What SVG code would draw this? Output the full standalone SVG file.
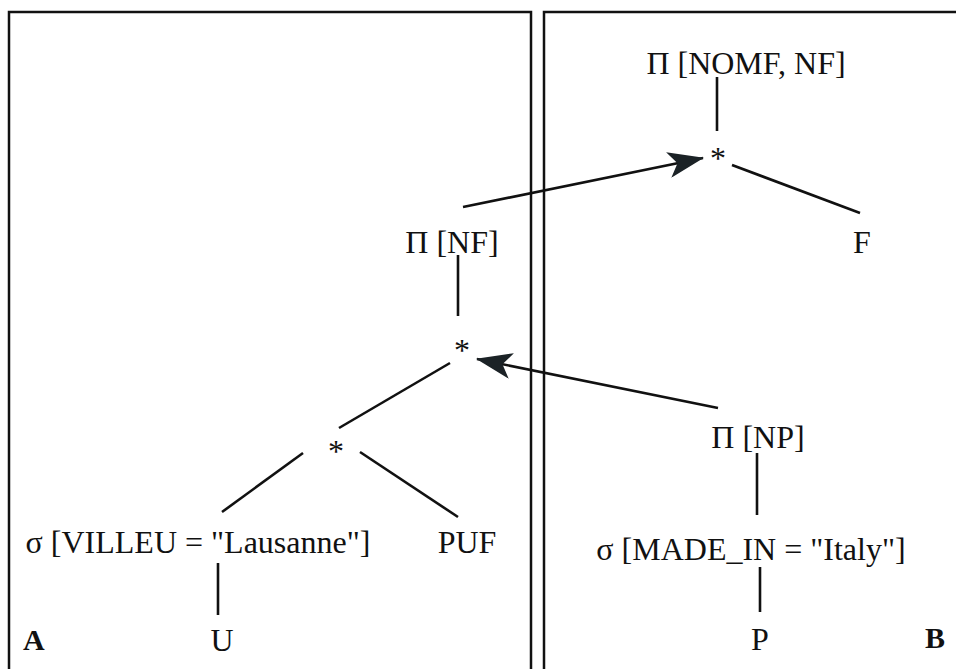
<svg xmlns="http://www.w3.org/2000/svg" width="956" height="669" viewBox="0 0 956 669">
<style>
  text { font-family: "Liberation Serif", "Times New Roman", serif; font-size: 32px; fill: #111; }
  .c { text-anchor: middle; }
  .lbl { font-weight: bold; font-size: 30px; }
  .panel { fill: none; stroke: #111; stroke-width: 2.5; }
  .edge { stroke: #111; stroke-width: 2.6; fill: none; }
  .arrow { stroke: #111; stroke-width: 2.6; fill: none; marker-end: url(#ah); }
</style>
<defs>
  <marker id="ah" markerUnits="userSpaceOnUse" viewBox="0 0 36 26" refX="35" refY="13" markerWidth="36" markerHeight="26" orient="auto">
    <path d="M0,0 L36,13 L0,26 L9,13 Z" fill="#1b2226"/>
  </marker>
</defs>
<rect width="956" height="669" fill="#fff"/>
<g id="panels">
  <rect class="panel" x="9" y="12" width="522" height="680"/>
  <rect class="panel" x="544" y="12" width="420" height="680"/>
</g>
<g id="connectors">
  <line class="edge" x1="717" y1="77" x2="717" y2="131"/>
  <line class="edge" x1="732" y1="165" x2="860" y2="213"/>
  <line class="arrow" x1="463" y1="207" x2="703" y2="158"/>
  <line class="edge" x1="458" y1="255" x2="458" y2="316"/>
  <line class="arrow" x1="718" y1="408" x2="477" y2="359"/>
  <line class="edge" x1="450" y1="363" x2="339" y2="428"/>
  <line class="edge" x1="303" y1="453" x2="222" y2="512"/>
  <line class="edge" x1="360" y1="452" x2="458" y2="517"/>
  <line class="edge" x1="218" y1="563" x2="218" y2="615"/>
  <line class="edge" x1="757" y1="453" x2="757" y2="515"/>
  <line class="edge" x1="760" y1="567" x2="760" y2="612"/>
</g>
<g id="n_proj_nomf"><text class="c" x="746" y="74">Π [NOMF, NF]</text></g>
<g id="n_join_top"><text class="c" x="718" y="169">*</text></g>
<g id="n_F"><text class="c" x="862" y="253">F</text></g>
<g id="n_proj_nf"><text class="c" x="452" y="253">Π [NF]</text></g>
<g id="n_join_mid"><text class="c" x="462" y="361">*</text></g>
<g id="n_join_low"><text class="c" x="336" y="462">*</text></g>
<g id="n_sel_lausanne"><text class="c" x="198" y="553">σ [VILLEU = "Lausanne"]</text></g>
<g id="n_PUF"><text class="c" x="467" y="553">PUF</text></g>
<g id="n_U"><text class="c" x="222" y="651">U</text></g>
<g id="n_proj_np"><text class="c" x="758" y="448">Π [NP]</text></g>
<g id="n_sel_italy"><text class="c" x="751" y="560">σ [MADE_IN = "Italy"]</text></g>
<g id="n_P"><text class="c" x="760" y="650">P</text></g>
<g id="label_A"><text class="lbl" x="23" y="650">A</text></g>
<g id="label_B"><text class="lbl" x="925" y="648">B</text></g>
</svg>
